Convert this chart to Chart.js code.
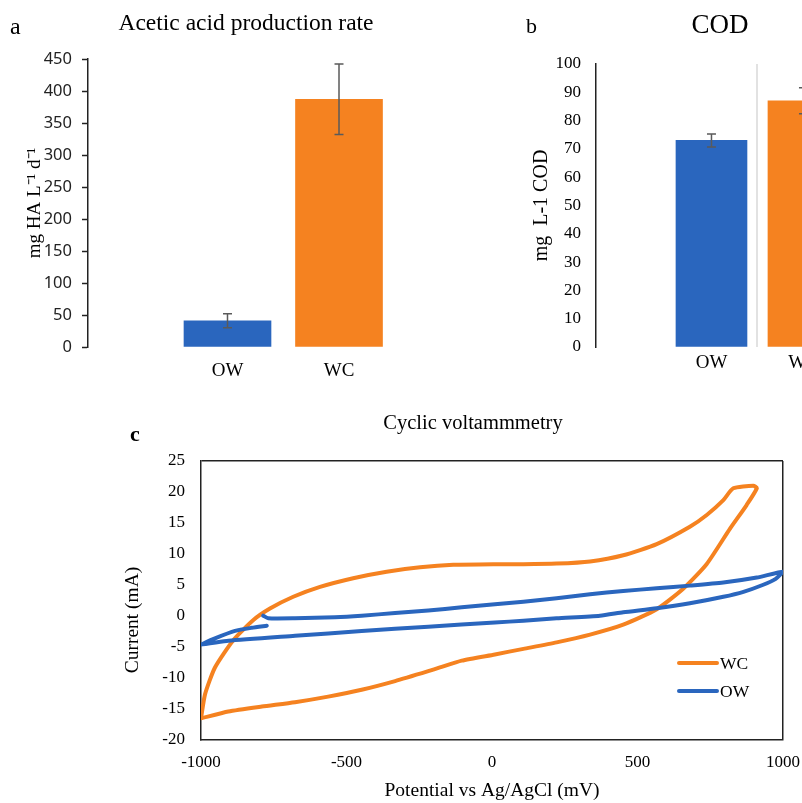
<!DOCTYPE html>
<html>
<head>
<meta charset="utf-8">
<script src="https://cdn.jsdelivr.net/npm/chart.js@4.4.1/dist/chart.umd.min.js"></script>
<style>
  body { margin: 0; background: #fff; }
  #fig { position: relative; width: 802px; height: 803px; overflow: hidden; font-family: 'Liberation Serif', 'Times New Roman', serif; color: #000; }
  #fig canvas { position: absolute; }
  .lbl { position: absolute; white-space: nowrap; line-height: 1; }
  .mid { transform: translateX(-50%); }
  .key { position: absolute; height: 4px; border-radius: 2px; }
</style>
</head>
<body>
<div id="fig">
  <canvas id="chartA" width="400" height="380" style="left:0;top:0"></canvas>
  <canvas id="chartB" width="302" height="380" style="left:500px;top:0"></canvas>
  <canvas id="chartC" width="702" height="403" style="left:100px;top:400px"></canvas>

  <div class="lbl" style="left:10px;top:14px;font-size:24px">a</div>
  <div class="lbl mid" style="left:246px;top:11px;font-size:23.5px">Acetic acid production rate</div>
  <div class="lbl" style="left:526px;top:15px;font-size:22px">b</div>
  <div class="lbl mid" style="left:720px;top:11px;font-size:27px">COD</div>
  <div class="lbl" style="left:130px;top:423px;font-size:22px;font-weight:bold">c</div>
  <div class="lbl mid" style="left:473px;top:412px;font-size:20.5px">Cyclic voltammmetry</div>

  <div class="key" style="left:677px;top:661px;width:42px;background:#F58220"></div>
  <div class="lbl" style="left:720px;top:655px;font-size:17.5px">WC</div>
  <div class="key" style="left:677px;top:689px;width:42px;background:#2A66BE"></div>
  <div class="lbl" style="left:720px;top:683px;font-size:17.5px">OW</div>
</div>

<script>
// 資料
const categories = ['OW', 'WC'];
const aceticRate = [41, 387];
const aceticErr = [11, 55];
const codValues = [73, 87];
const codErr = [2.3, 4.6];
const aceticTicks = [0, 50, 100, 150, 200, 250, 300, 350, 400, 450];
const codTicks = [0, 10, 20, 30, 40, 50, 60, 70, 80, 90, 100];

// cyclic voltammetry (mV, mA)
const wcPotential = [-1000, -986, -952, -889, -820, -763, -683, -591, -477, -362, -247, -133, 10, 108, 222, 337, 451, 566, 680, 738, 795, 829, 898, 910, 875, 818, 738, 657, 566, 451, 337, 222, 108, 10, -104, -179, -219, -333, -448, -563, -677, -791, -906, -1000];
const wcCurrent = [-16.5, -12.6, -8.3, -3.9, -0.65, 1.2, 3.1, 4.7, 6.1, 7.15, 7.85, 8.25, 8.35, 8.35, 8.45, 8.8, 9.8, 11.6, 14.4, 16.3, 18.7, 20.6, 21.0, 20.6, 17.9, 14.1, 8.4, 4.4, 1.1, -1.4, -3.0, -4.25, -5.3, -6.2, -7.2, -8.3, -8.9, -10.5, -11.9, -13.0, -13.9, -14.6, -15.4, -16.5];
const owPotential = [-786, -769, -677, -540, -448, -333, -219, -104, 10, 108, 222, 337, 451, 566, 680, 795, 910, 1000, 975, 930, 864, 795, 680, 566, 451, 371, 222, 108, 10, -219, -448, -677, -906, -1000, -952, -883, -826, -774];
const owCurrent = [0.05, -0.37, -0.37, -0.2, 0.05, 0.48, 0.9, 1.4, 1.9, 2.3, 2.85, 3.5, 4.03, 4.47, 4.9, 5.4, 6.2, 7.15, 6.0, 5.0, 3.9, 3.1, 2.05, 1.24, 0.6, 0.05, -0.37, -0.76, -1.05, -1.73, -2.42, -3.2, -4.0, -4.6, -3.6, -2.4, -1.9, -1.56];
const cvPotentialTicks = [-1000, -500, 0, 500, 1000];
const cvCurrentTicks = [-20, -15, -10, -5, 0, 5, 10, 15, 20, 25];

const blue = '#2A66BE';
const orange = '#F58220';
const sans = "'Noto Sans', 'Open Sans', sans-serif";

Chart.defaults.font.family = "'Liberation Serif', 'Times New Roman', serif";
Chart.defaults.color = '#000';
Chart.defaults.animation = false;
Chart.defaults.plugins.legend.display = false;
Chart.defaults.plugins.tooltip.enabled = false;

// 誤差棒
const errorBars = {
    id: 'errorBars',
    afterDatasetsDraw(chart) {
        const ctx = chart.ctx;
        const yScale = chart.scales.y;
        chart.data.datasets.forEach((ds, di) => {
            if (!ds.errors) return;
            chart.getDatasetMeta(di).data.forEach((bar, i) => {
                const v = ds.data[i].y;
                const top = yScale.getPixelForValue(v + ds.errors[i]);
                const bot = yScale.getPixelForValue(v - ds.errors[i]);
                ctx.save();
                ctx.strokeStyle = '#5A5A5A';
                ctx.lineWidth = 1.5;
                ctx.beginPath();
                ctx.moveTo(bar.x, top); ctx.lineTo(bar.x, bot);
                ctx.moveTo(bar.x - 4.5, top); ctx.lineTo(bar.x + 4.5, top);
                ctx.moveTo(bar.x - 4.5, bot); ctx.lineTo(bar.x + 4.5, bot);
                ctx.stroke();
                ctx.restore();
            });
        });
    }
};

function barData(values) {
    return categories.map((c, i) => ({ x: i + 1, y: values[i] }));
}

// a: acetic acid
new Chart(document.getElementById('chartA'), {
    type: 'bar',
    data: {
        datasets: [{
            data: barData(aceticRate),
            errors: aceticErr,
            backgroundColor: [blue, orange],
            barThickness: 87
        }]
    },
    options: {
        responsive: false,
        layout: { padding: { top: 59, right: 0, bottom: 0, left: 0 } },
        scales: {
            x: {
                type: 'linear', min: -0.251, max: 2.547, offset: false,
                afterBuildTicks: ax => { ax.ticks = categories.map((c, i) => ({ value: i + 1 })); },
                afterFit: ax => { ax.height = 33; ax.paddingLeft = 0; ax.paddingRight = 0; },
                ticks: { callback: v => categories[v - 1] ?? '', padding: 5, font: { size: 19 }, maxRotation: 0, autoSkip: false },
                grid: { display: false },
                border: { display: false }
            },
            y: {
                min: aceticTicks[0], max: aceticTicks[aceticTicks.length - 1],
                ticks: { stepSize: aceticTicks[1] - aceticTicks[0], padding: 10, font: { family: sans, size: 16.5 }, color: '#222' },
                grid: { drawOnChartArea: false, drawTicks: true, tickLength: 6, tickColor: '#222', tickWidth: 1.5 },
                border: { color: '#222', width: 1.5 },
                title: { display: true, text: 'mg HA L\u207B\u00B9 d\u207B\u00B9', font: { size: 19 }, padding: { top: 24, bottom: 0 } },
                afterFit: ax => { ax.width = 88; }
            }
        }
    },
    plugins: [errorBars]
});

// b: COD
new Chart(document.getElementById('chartB'), {
    type: 'bar',
    data: {
        datasets: [{
            data: barData(codValues),
            errors: codErr,
            backgroundColor: [blue, orange],
            barThickness: 71
        }]
    },
    options: {
        responsive: false,
        layout: { padding: { top: 64, right: 0, bottom: 0, left: 0 } },
        scales: {
            x: {
                type: 'linear', min: -0.2554, max: 1.984, offset: false,
                afterBuildTicks: ax => { ax.ticks = [1, 1.5, 2].map(v => ({ value: v })); },
                afterFit: ax => { ax.height = 33; ax.paddingLeft = 0; ax.paddingRight = 0; },
                ticks: { callback: v => categories[v - 1] ?? '', padding: 5, font: { size: 19 }, maxRotation: 0, autoSkip: false },
                grid: { offset: false, drawTicks: false, lineWidth: 2, color: c => (c.tick && c.tick.value === 1.5) ? '#E2E2E2' : 'rgba(0,0,0,0)' },
                border: { display: false }
            },
            y: {
                min: codTicks[0], max: codTicks[codTicks.length - 1],
                ticks: { stepSize: codTicks[1] - codTicks[0], padding: 15, font: { size: 17 } },
                grid: { drawOnChartArea: false, drawTicks: false },
                border: { color: '#222', width: 1.5 },
                title: { display: true, text: 'mg  L-1 COD', font: { size: 20 }, padding: { top: 30, bottom: 0 } },
                afterFit: ax => { ax.width = 96; }
            }
        }
    },
    plugins: [errorBars]
});

// c: cyclic voltammetry
function xy(xs, ys) {
    return xs.map((x, i) => ({ x: x, y: ys[i] }));
}

new Chart(document.getElementById('chartC'), {
    type: 'scatter',
    data: {
        datasets: [
            { label: 'WC', data: xy(wcPotential, wcCurrent), borderColor: orange, order: 1 },
            { label: 'OW', data: xy(owPotential, owCurrent), borderColor: blue, order: 0 }
        ]
    },
    options: {
        responsive: false,
        layout: { padding: { top: 61, right: 19, bottom: 0, left: 0 } },
        elements: {
            point: { radius: 0 },
            line: { borderWidth: 4, tension: 0.2, borderCapStyle: 'round', borderJoinStyle: 'round', fill: false }
        },
        datasets: { scatter: { showLine: true } },
        scales: {
            x: {
                min: cvPotentialTicks[0], max: cvPotentialTicks[cvPotentialTicks.length - 1],
                ticks: { stepSize: cvPotentialTicks[1] - cvPotentialTicks[0], padding: 12, font: { size: 17 }, callback: v => String(v), maxRotation: 0 },
                grid: { drawTicks: false, lineWidth: 1.5, color: c => (c.tick && c.tick.value === cvPotentialTicks[cvPotentialTicks.length - 1]) ? '#222' : 'rgba(0,0,0,0)' },
                border: { color: '#222', width: 1.5 },
                title: { display: true, text: 'Potential vs Ag/AgCl (mV)', font: { size: 19.5 }, padding: { top: 0, bottom: 0 } },
                afterFit: ax => { ax.height = 63; ax.paddingLeft = 0; ax.paddingRight = 0; }
            },
            y: {
                min: cvCurrentTicks[0], max: cvCurrentTicks[cvCurrentTicks.length - 1],
                ticks: { stepSize: cvCurrentTicks[1] - cvCurrentTicks[0], padding: 16, font: { size: 17 }, callback: v => String(v) },
                grid: { drawTicks: false, lineWidth: 1.5, color: c => (c.tick && c.tick.value === cvCurrentTicks[cvCurrentTicks.length - 1]) ? '#222' : 'rgba(0,0,0,0)' },
                border: { color: '#222', width: 1.5 },
                title: { display: true, text: 'Current (mA)        ', font: { size: 19.5 }, padding: { top: 21.5, bottom: 0 } },
                afterFit: ax => { ax.width = 101; }
            }
        }
    }
});
</script>
</body>
</html>
